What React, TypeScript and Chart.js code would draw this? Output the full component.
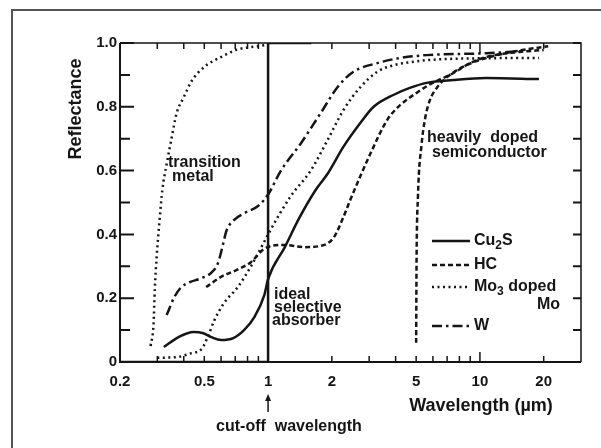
import React, { useEffect, useRef } from "react";
import { Chart, registerables } from "chart.js";
Chart.register(...registerables);

// ---- axis ticks ----
const xTickLabels = [0.2, 0.5, 1, 2, 5, 10, 20];
const xMinorTicks = [0.3, 0.4, 0.6, 0.7, 0.8, 0.9, 3, 4, 6, 7, 8, 9];
const yTickLabels = [0, 0.2, 0.4, 0.6, 0.8, 1.0];
const yMinorTicks = [0.1, 0.3, 0.5, 0.7, 0.9];

// ---- series (wavelength in µm, reflectance) ----
const idealWl = [0.2, 1, 1, 1.6];
const idealR = [0, 0, 1, 1];

const transitionWl = [0.279, 0.288, 0.292, 0.298, 0.307, 0.317, 0.332, 0.35, 0.37, 0.4, 0.435, 0.5, 0.6, 0.72, 0.9, 1.0];
const transitionR = [0.05, 0.12, 0.23, 0.33, 0.44, 0.54, 0.62, 0.7, 0.78, 0.83, 0.88, 0.925, 0.956, 0.98, 0.99, 0.995];

const cu2sWl = [0.322, 0.378, 0.445, 0.495, 0.54, 0.6, 0.685, 0.77, 0.86, 0.96, 1.0, 1.2, 1.4, 1.68, 1.91, 2.27, 2.73, 3.15, 3.9, 4.7, 5.6, 7.5, 10.7, 19];
const cu2sR = [0.047, 0.078, 0.094, 0.09, 0.078, 0.069, 0.075, 0.1, 0.14, 0.21, 0.26, 0.36, 0.45, 0.54, 0.59, 0.675, 0.75, 0.8, 0.837, 0.86, 0.875, 0.884, 0.89, 0.887];

const hcWl = [0.51, 0.6, 0.72, 0.83, 0.96, 1.19, 1.48, 1.77, 2.04, 2.27, 2.45, 3.05, 3.66, 4.2, 5.06, 5.8, 7.5, 9.0, 10.7, 15.4, 20];
const hcR = [0.235, 0.267, 0.29, 0.313, 0.355, 0.367, 0.36, 0.364, 0.39, 0.455, 0.51, 0.655, 0.76, 0.805, 0.845, 0.87, 0.906, 0.937, 0.956, 0.972, 0.978];

const semiWl = [5.0, 5.02, 5.1, 5.3, 5.5, 5.8, 6.3, 7.0, 8.3, 10.7, 15, 21];
const semiR = [0.06, 0.3, 0.52, 0.68, 0.76, 0.82, 0.862, 0.893, 0.925, 0.953, 0.975, 0.99];

const moWl = [0.3, 0.378, 0.435, 0.485, 0.52, 0.557, 0.62, 0.72, 0.83, 0.93, 1.0, 1.28, 1.59, 1.91, 2.27, 2.73, 3.28, 3.9, 4.7, 5.8, 10, 19];
const moR = [0.013, 0.016, 0.028, 0.04, 0.08, 0.13, 0.185, 0.235, 0.3, 0.36, 0.4, 0.52, 0.6, 0.696, 0.79, 0.862, 0.91, 0.93, 0.94, 0.947, 0.952, 0.953];

const wWl = [0.332, 0.362, 0.39, 0.426, 0.485, 0.54, 0.58, 0.615, 0.635, 0.69, 0.77, 0.9, 1.0, 1.15, 1.43, 1.77, 2.13, 2.53, 3.28, 4.2, 5.6, 10.7, 16];
const wR = [0.147, 0.205, 0.235, 0.25, 0.263, 0.28, 0.31, 0.373, 0.41, 0.445, 0.466, 0.49, 0.525, 0.6, 0.686, 0.78, 0.862, 0.91, 0.937, 0.953, 0.962, 0.968, 0.975];

const pts = (xs: number[], ys: number[]) => xs.map((x, i) => ({ x, y: ys[i] }));

const INK = "#151515";
const SOLID: number[] = [];
const DASHED = [5, 3];
const DOTTED = [2, 3.5];
const DASHDOT = [10, 4, 2.5, 4];

const FONT = "'Liberation Sans', Arial, sans-serif";

function App() {
  const ref = useRef<HTMLCanvasElement | null>(null);

  useEffect(() => {
    const canvas = ref.current;
    if (!canvas) return;

    const decor = {
      id: "decor",
      afterDraw(chart: any) {
        const ctx = chart.ctx as CanvasRenderingContext2D;
        const xs = chart.scales.x;
        const ys = chart.scales.y;
        const { left, right, top, bottom } = chart.chartArea;
        ctx.save();
        ctx.setLineDash([]);
        // outer frame
        ctx.strokeStyle = "#555";
        ctx.lineWidth = 2;
        ctx.beginPath();
        ctx.moveTo(12, 448);
        ctx.lineTo(12, 10);
        ctx.lineTo(601, 10);
        ctx.stroke();

        // axes box
        ctx.strokeStyle = INK;
        ctx.lineWidth = 2;
        ctx.beginPath();
        ctx.moveTo(left, top);
        ctx.lineTo(left, bottom);
        ctx.lineTo(right, bottom);
        ctx.stroke();
        ctx.lineWidth = 1.5;
        ctx.beginPath();
        ctx.moveTo(left, top);
        ctx.lineTo(right, top);
        ctx.lineTo(right, bottom);
        ctx.stroke();

        // y ticks
        ctx.lineWidth = 2;
        const yTick = (v: number, lenL: number, lenR: number) => {
          const py = ys.getPixelForValue(v);
          ctx.beginPath();
          ctx.moveTo(left, py);
          ctx.lineTo(left + lenL, py);
          ctx.moveTo(right, py);
          ctx.lineTo(right - lenR, py);
          ctx.stroke();
        };
        yTickLabels.forEach((v) => yTick(v, 14, 8));
        yMinorTicks.forEach((v) => yTick(v, 10, 8));

        // x ticks
        ctx.lineWidth = 1.5;
        const xTick = (v: number, len: number) => {
          const px = xs.getPixelForValue(v);
          ctx.beginPath();
          ctx.moveTo(px, bottom);
          ctx.lineTo(px, bottom - len);
          ctx.moveTo(px, top);
          ctx.lineTo(px, top + len);
          ctx.stroke();
        };
        xTickLabels.forEach((v) => xTick(v, v === 10 ? 10 : 6));
        xMinorTicks.forEach((v) => xTick(v, 6));

        // tick labels
        ctx.fillStyle = INK;
        ctx.font = `bold 15px ${FONT}`;
        ctx.textAlign = "right";
        ctx.textBaseline = "middle";
        yTickLabels.forEach((v) => {
          const label = v === 0 ? "0" : v.toFixed(1);
          ctx.fillText(label, left - 3, ys.getPixelForValue(v));
        });
        ctx.textAlign = "center";
        xTickLabels.forEach((v) => {
          ctx.fillText(String(v), xs.getPixelForValue(v), bottom + 20);
        });

        // axis titles
        ctx.font = `bold 18px ${FONT}`;
        ctx.save();
        ctx.translate(76, 109);
        ctx.rotate(-Math.PI / 2);
        ctx.textAlign = "center";
        ctx.fillText("Reflectance", 0, 0);
        ctx.restore();
        ctx.textAlign = "center";
        ctx.fillText("Wavelength (\u00b5m)", 481, 406);

        // cut-off arrow
        const cx = xs.getPixelForValue(1);
        ctx.lineWidth = 1.5;
        ctx.beginPath();
        ctx.moveTo(cx, 412);
        ctx.lineTo(cx, 398);
        ctx.stroke();
        ctx.beginPath();
        ctx.moveTo(cx, 394);
        ctx.lineTo(cx - 3, 401);
        ctx.lineTo(cx + 3, 401);
        ctx.closePath();
        ctx.fill();
        ctx.font = `bold 16px ${FONT}`;
        ctx.fillText("cut-off  wavelength", 289, 427);

        // annotations
        ctx.textAlign = "left";
        ctx.fillText("transition", 168, 163);
        ctx.fillText("metal", 172, 177);
        ctx.fillText("heavily  doped", 427, 138);
        ctx.fillText("semiconductor", 432, 153);
        ctx.fillText("ideal", 274, 295);
        ctx.fillText("selective", 274, 308);
        ctx.fillText("absorber", 272, 321);

        // legend
        const legend = [
          { dash: SOLID, y: 241 },
          { dash: DASHED, y: 265 },
          { dash: DOTTED, y: 287 },
          { dash: DASHDOT, y: 326 },
        ];
        ctx.lineWidth = 2.5;
        legend.forEach((it) => {
          ctx.setLineDash(it.dash);
          ctx.beginPath();
          ctx.moveTo(432, it.y);
          ctx.lineTo(470, it.y);
          ctx.stroke();
        });
        ctx.setLineDash([]);
        const sub = (parts: [string, boolean][], x: number, y: number) => {
          let cur = x;
          parts.forEach(([t, isSub]) => {
            ctx.font = isSub ? `bold 12px ${FONT}` : `bold 16px ${FONT}`;
            ctx.fillText(t, cur, isSub ? y + 5 : y);
            cur += ctx.measureText(t).width;
          });
        };
        sub([["Cu", false], ["2", true], ["S", false]], 474, 241);
        sub([["HC", false]], 474, 265);
        sub([["Mo", false], ["3", true], [" doped", false]], 474, 287);
        ctx.font = `bold 16px ${FONT}`;
        ctx.textAlign = "right";
        ctx.fillText("Mo", 560, 305);
        ctx.textAlign = "left";
        ctx.fillText("W", 474, 326);
        ctx.restore();
      },
    };

    const ds = (label: string, data: any[], dash: number[], smooth = true, width = 2.5) => ({
      label,
      data,
      borderColor: INK,
      backgroundColor: INK,
      borderWidth: width,
      borderDash: dash,
      pointRadius: 0,
      tension: smooth ? 0.4 : 0,
      cubicInterpolationMode: smooth ? "monotone" : "default",
      fill: false,
    });

    const chart = new Chart(canvas, {
      type: "line",
      data: {
        datasets: [
          ds("ideal selective absorber", pts(idealWl, idealR), SOLID, false, 2.5),
          ds("transition metal", pts(transitionWl, transitionR), DOTTED),
          ds("Cu2S", pts(cu2sWl, cu2sR), SOLID),
          ds("HC", pts(hcWl, hcR), DASHED),
          ds("heavily doped semiconductor", pts(semiWl, semiR), DASHED),
          ds("Mo3 doped Mo", pts(moWl, moR), DOTTED),
          ds("W", pts(wWl, wR), DASHDOT),
        ],
      },
      options: {
        animation: false,
        responsive: false,
        devicePixelRatio: 1,
        layout: { padding: { left: 120, right: 20, top: 43, bottom: 86 } },
        plugins: { legend: { display: false }, tooltip: { enabled: false } },
        scales: {
          x: { type: "logarithmic", min: 0.2, max: 30, display: false },
          y: { type: "linear", min: 0, max: 1, display: false },
        },
      },
      plugins: [decor],
    } as any);

    return () => chart.destroy();
  }, []);

  return (
    <div style={{ position: "absolute", left: 0, top: 0, width: 601, height: 448, background: "#fff" }}>
      <canvas ref={ref} width={601} height={448} style={{ width: 601, height: 448, display: "block" }} />
    </div>
  );
}

export default App;
